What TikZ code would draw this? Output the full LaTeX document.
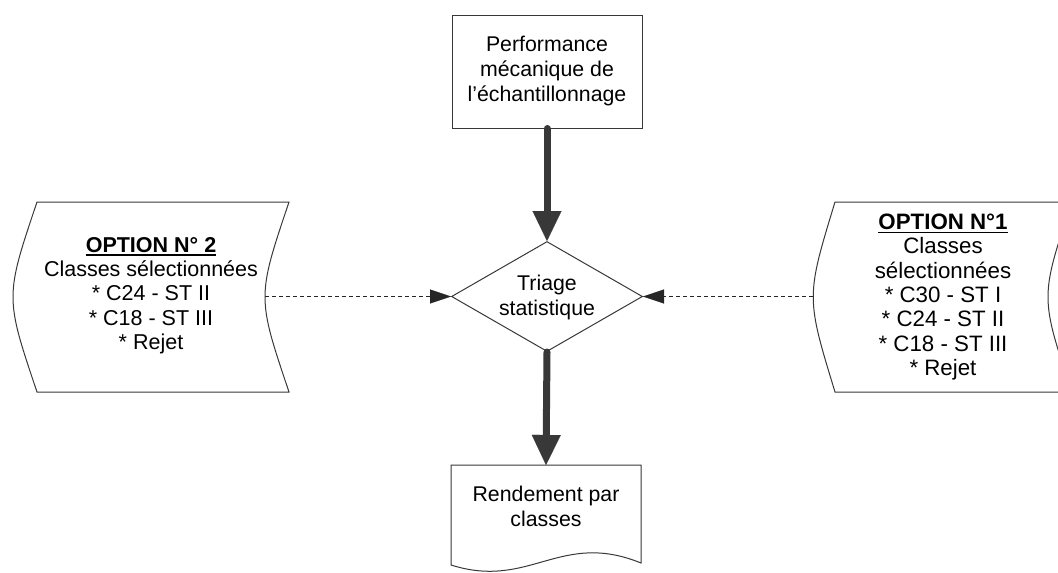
\documentclass[tikz,border=0pt]{standalone}
\usepackage{fontspec}
\setmainfont{Liberation Sans}
\usetikzlibrary{arrows.meta,shapes.geometric}
\newcommand\myulbold[1]{\setbox0\hbox{\textbf{#1}}\rlap{\raisebox{-3.8pt}{\rule{\wd0}{1.6pt}}}\box0}
\begin{document}
\begin{tikzpicture}[x=1pt,y=-1pt,
  lc/.style={draw=black!78, line width=1pt},
  txt/.style={align=center, inner sep=0pt, font=\fontsize{21.5}{24.3}\selectfont},
  txtb/.style={align=center, inner sep=0pt, font=\fontsize{21.3}{25}\selectfont},
  bigarrow/.style={draw=black!78, line width=7pt, line cap=round,
     -{Triangle[length=30pt,width=29pt,line width=0.1pt]}},
  dasharrow/.style={draw=black!85, line width=0.9pt, dash pattern=on 4pt off 3pt,
     -{Triangle[length=21pt,width=14pt,line width=0.1pt]}}]
\useasboundingbox (0,0) rectangle (1058,573);

% top box
\node[lc, rectangle, minimum width=190pt, minimum height=113pt, txtb] (perf) at (547,71.5)
  {Performance\\mécanique de\\l’échantillonnage};

% diamond
\node[lc, diamond, minimum width=191pt, minimum height=110pt, inner sep=0pt] (tri) at (547,296.5) {};
\node[txtb] (trilabel) at (547,297) {Triage\\statistique};

% bottom document
\node[txtb, anchor=north, minimum width=190pt, minimum height=82pt] (rend) at (546,465)
  {Rendement par\\classes};
\draw[lc] (451,465) -- (641,465) -- (641,563) .. controls (560,530) and (530,590) .. (451,565) -- cycle;

% left storage shape (option 2)
\draw[lc] (37,202) -- (289,202) .. controls (257,297) .. (289,392) -- (37,392) .. controls (5,297) .. (37,202) -- cycle;
\node[txt] (opt2) at (151,295.5)
  {\myulbold{OPTION N° 2}\\Classes sélectionnées\\* C24 - ST II\\* C18 - ST III\\* Rejet};
\coordinate (opt2out) at (265,296.5);

% right storage shape (option 1)
\draw[lc] (835,202) -- (1072,202) .. controls (1040,297) .. (1072,392) -- (835,392) .. controls (806,297) .. (835,202) -- cycle;
\node[txt, font=\fontsize{22.3}{24.3}\selectfont] (opt1) at (943,297)
  {\myulbold{OPTION N°1}\\Classes\\sélectionnées\\* C30 - ST I\\* C24 - ST II\\* C18 - ST III\\* Rejet};
\coordinate (opt1out) at (813,296.5);

% connectors
\draw[bigarrow] (perf.south) -- (tri.north);
\draw[bigarrow] (tri.south) -- (rend.north);
\draw[dasharrow] (opt2out) -- (tri.west);
\draw[dasharrow] (opt1out) -- (tri.east);
\end{tikzpicture}
\end{document}
